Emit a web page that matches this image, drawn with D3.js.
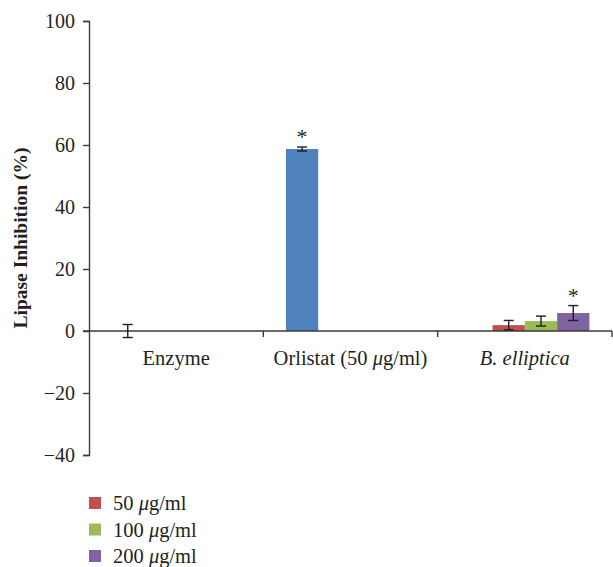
<!DOCTYPE html>
<html>
<head>
<meta charset="utf-8">
<script src="https://cdn.jsdelivr.net/npm/d3@7"></script>
<style>
  body { margin: 0; background: #fff; }
  text { font-family: "Liberation Serif", "DejaVu Serif", serif; fill: #231f20; }
</style>
</head>
<body>
<div id="wrapper"></div>
<script>
const categories = ["Enzyme", "Orlistat (50 μg/ml)", "B. elliptica"]
const seriesNames = ["control", "50 μg/ml", "100 μg/ml", "200 μg/ml"]
const seriesColors = ["#4f81bd", "#c0504d", "#9bbb59", "#8064a2"]
// values per series, per category (null = no bar)
const values = [
  [0, 58.7, null],
  [null, null, 1.9],
  [null, null, 3.2],
  [null, null, 5.8],
]
const errors = [
  [2.1, 0.65, null],
  [null, null, 1.5],
  [null, null, 1.6],
  [null, null, 2.4],
]
const stars = [
  [false, true, false],
  [false, false, false],
  [false, false, false],
  [false, false, true],
]
const yTicks = [-40, -20, 0, 20, 40, 60, 80, 100]

const dms = {
  width: 613,
  height: 567,
  left: 89,
  right: 612,
  top: 21,
  bottom: 455,
}

const svg = d3.select("#wrapper")
  .append("svg")
  .attr("width", dms.width)
  .attr("height", dms.height)

const yScale = d3.scaleLinear()
  .domain([-40, 100])
  .range([dms.bottom, dms.top])

const xScale = d3.scaleBand()
  .domain(categories)
  .range([dms.left, dms.right])

const innerScale = d3.scaleBand()
  .domain(d3.range(seriesNames.length))
  .range([0, xScale.bandwidth()])
  .paddingInner(0)
  .paddingOuter(0.7)

const axisColor = "#3a3a3a"

// y axis
const yAxis = svg.append("g")
  .attr("transform", `translate(${dms.left},0)`)
  .call(d3.axisLeft(yScale).tickValues(yTicks).tickSize(6).tickPadding(8)
    .tickFormat(d => d < 0 ? "\u2212" + Math.abs(d) : d))
yAxis.select(".domain").attr("stroke", axisColor).attr("stroke-width", 1.4)
yAxis.selectAll(".tick line").attr("stroke", axisColor).attr("stroke-width", 1.4)
yAxis.selectAll(".tick text")
  .style("font-size", "20px")
  .style("font-family", "Liberation Serif, serif")
  .attr("fill", "#231f20")

// bars
const barData = []
values.forEach((row, s) => row.forEach((v, c) => {
  if (v !== null) barData.push({s, c, v, e: errors[s][c], star: stars[s][c]})
}))

const bx = d => xScale(categories[d.c]) + innerScale(d.s)

svg.append("g").selectAll("rect")
  .data(barData)
  .join("rect")
  .attr("x", bx)
  .attr("width", innerScale.bandwidth())
  .attr("y", d => yScale(Math.max(0, d.v)))
  .attr("height", d => Math.abs(yScale(0) - yScale(d.v)))
  .attr("fill", d => seriesColors[d.s])

// x axis on zero line
const x0 = yScale(0)
svg.append("line")
  .attr("x1", dms.left - 6).attr("x2", dms.right)
  .attr("y1", x0).attr("y2", x0)
  .attr("stroke", axisColor).attr("stroke-width", 1.4)

svg.append("g").selectAll("line")
  .data(categories.slice(1).concat(["end"]))
  .join("line")
  .attr("x1", (d, i) => i < 2 ? xScale(d) : dms.right)
  .attr("x2", (d, i) => i < 2 ? xScale(d) : dms.right)
  .attr("y1", x0).attr("y2", x0 + 6)
  .attr("stroke", axisColor).attr("stroke-width", 1.4)

svg.append("g").selectAll("text")
  .data(categories)
  .join("text")
  .attr("x", d => xScale(d) + xScale.bandwidth() / 2)
  .attr("y", x0 + 34)
  .attr("text-anchor", "middle")
  .style("font-size", "20.5px")
  .style("font-style", d => d === "B. elliptica" ? "italic" : "normal")
  .each(function(d) {
    const t = d3.select(this)
    if (d.includes("μ")) {
      const parts = d.split("μ")
      t.append("tspan").text(parts[0])
      t.append("tspan").style("font-style", "italic").text("μ")
      t.append("tspan").text(parts[1])
    } else {
      t.text(d)
    }
  })

// error bars
const cap = 5
const errG = svg.append("g")
  .attr("stroke", "#231f20").attr("stroke-width", 1.4)
barData.forEach(d => {
  const cx = bx(d) + innerScale.bandwidth() / 2
  const y1 = yScale(d.v + d.e), y2 = yScale(d.v - d.e)
  errG.append("line").attr("x1", cx).attr("x2", cx).attr("y1", y1).attr("y2", y2)
  errG.append("line").attr("x1", cx - cap).attr("x2", cx + cap).attr("y1", y1).attr("y2", y1)
  errG.append("line").attr("x1", cx - cap).attr("x2", cx + cap).attr("y1", y2).attr("y2", y2)
})

svg.append("g").selectAll("text")
  .data(barData.filter(d => d.star))
  .join("text")
  .attr("x", d => bx(d) + innerScale.bandwidth() / 2)
  .attr("y", d => yScale(d.v + d.e) - 3)
  .attr("text-anchor", "middle")
  .style("font-size", "22px")
  .text("*")

// y axis title
svg.append("text")
  .attr("transform", `translate(27, ${(yScale(0) + yScale(60)) / 2}) rotate(-90)`)
  .attr("text-anchor", "middle")
  .style("font-size", "19.5px")
  .style("font-weight", "bold")
  .text("Lipase Inhibition (%)")

// legend
const legend = svg.append("g").selectAll("g")
  .data(seriesNames.slice(1))
  .join("g")
  .attr("transform", (d, i) => `translate(89, ${503 + i * 26.5})`)
legend.append("rect")
  .attr("x", 0).attr("y", -6)
  .attr("width", 12).attr("height", 12)
  .attr("fill", (d, i) => seriesColors[i + 1])
legend.append("text")
  .attr("x", 24).attr("y", 7)
  .style("font-size", "20.5px")
  .each(function(d) {
    const parts = d.split("μ")
    const t = d3.select(this)
    t.append("tspan").text(parts[0])
    t.append("tspan").style("font-style", "italic").text("μ")
    t.append("tspan").text(parts[1])
  })
</script>
</body>
</html>
